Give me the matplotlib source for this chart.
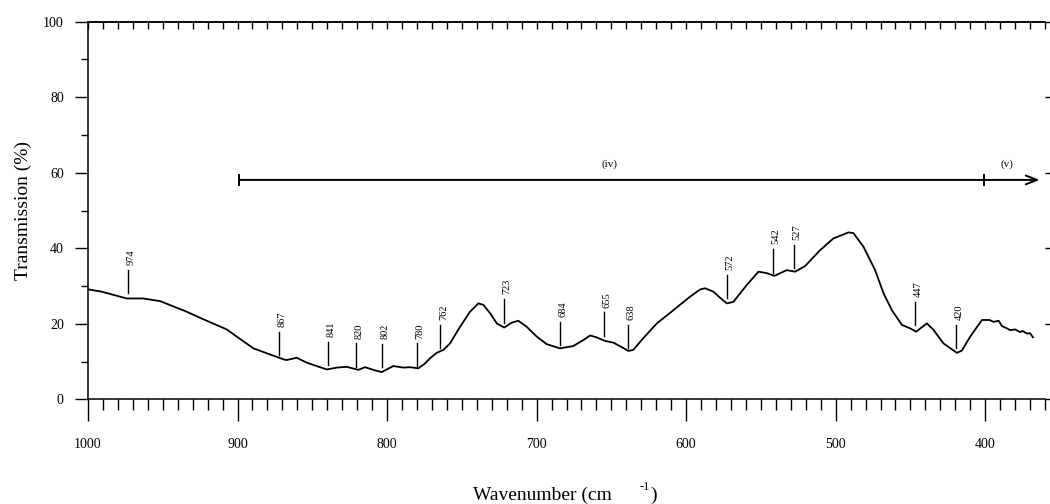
import matplotlib
matplotlib.use("Agg")
import matplotlib.pyplot as plt
from matplotlib.ticker import MultipleLocator, FixedLocator
from matplotlib.patches import FancyArrowPatch

plt.rcParams['font.family'] = ['Liberation Serif', 'DejaVu Serif']

# ---- spectrum ----
wavenumber = [999.8, 990.8, 974.1, 963.0, 951.8, 934.0, 922.9, 907.2, 900.5, 889.4,
              880.5, 869.4, 867.1, 860.4, 853.7, 840.3, 833.6, 827.0, 819.2, 814.7,
              809.2, 803.6, 795.8, 789.1, 784.6, 779.1, 774.6, 771.2, 766.8, 762.3,
              757.9, 751.2, 744.5, 738.9, 735.6, 731.1, 726.6, 721.7, 716.6, 712.2,
              706.6, 699.9, 693.2, 684.4, 675.5, 668.7, 664.2, 659.8, 654.6, 648.6,
              643.0, 638.6, 635.3, 628.6, 619.6, 608.5, 597.3, 590.6, 587.3, 581.7,
              577.3, 572.8, 568.4, 559.4, 551.6, 546.0, 540.9, 537.1, 532.7, 527.1,
              520.4, 510.4, 501.5, 491.4, 488.1, 481.4, 473.6, 468.0, 462.4, 455.7,
              450.2, 446.2, 439.0, 434.6, 427.9, 418.9, 415.6, 410.0, 402.2, 397.0,
              394.4, 391.0, 388.8, 385.0, 383.3, 380.0, 376.6, 375.0, 372.0, 370.0,
              368.0]
transmission = [29.1, 28.5, 26.7, 26.7, 26.0, 23.2, 21.2, 18.5, 16.6, 13.5,
                12.2, 10.6, 10.4, 11.0, 9.7, 7.9, 8.4, 8.6, 7.8, 8.5,
                7.8, 7.2, 8.8, 8.4, 8.5, 8.2, 9.5, 10.9, 12.3, 13.1,
                14.8, 19.2, 23.2, 25.4, 25.0, 22.8, 20.1, 19.0, 20.3, 20.8,
                19.2, 16.6, 14.6, 13.5, 14.1, 15.7, 16.9, 16.4, 15.5, 15.0,
                13.8, 12.8, 13.1, 16.2, 20.1, 23.6, 27.2, 29.1, 29.4, 28.5,
                26.9, 25.4, 25.8, 30.3, 33.8, 33.4, 32.7, 33.4, 34.2, 33.8,
                35.3, 39.5, 42.6, 44.2, 44.0, 40.4, 34.2, 28.1, 23.6, 19.7,
                18.8, 17.9, 20.1, 18.4, 14.8, 12.3, 12.9, 16.6, 21.0, 21.0,
                20.5, 20.8, 19.4, 18.7, 18.3, 18.5, 17.8, 18.1, 17.4, 17.5,
                16.4]

# ---- peak annotations ----
peak_labels = ['974', '867', '841', '820', '802', '780', '762', '723', '684',
               '655', '638', '572', '542', '527', '447', '420']
peak_pos = [973.0, 872.0, 839.4, 820.6, 803.5, 780.3, 764.3, 721.9, 684.4,
            654.9, 638.8, 572.5, 541.7, 528.0, 447.0, 419.4]
peak_base = [28.1, 11.7, 9.1, 8.6, 8.5, 8.6, 13.5, 20.3, 14.4,
             16.8, 13.5, 26.7, 33.5, 34.7, 19.7, 13.5]

# ---- region arrow ----
region_bounds = [899.0, 400.7, 363.7]
region_labels = ['(iv)', '(v)']
region_label_x = [651.2, 385.5]
region_y = 58.1

fig = plt.figure(figsize=(10.5, 5.04), dpi=100)
ax = fig.add_axes([88/1050, 1 - 399.3/504, (1045 - 88)/1050, (399.3 - 21.7)/504])

ax.plot(wavenumber, transmission, color='black', lw=1.3, solid_joinstyle='round')

ax.set_xlim(1000, 360)
ax.set_ylim(0, 100)

# spines
ax.spines['right'].set_visible(False)
for s in ['left', 'bottom', 'top']:
    ax.spines[s].set_linewidth(1.1)

# x ticks
ax.xaxis.set_major_locator(FixedLocator([1000, 900, 800, 700, 600, 500, 400]))
ax.xaxis.set_minor_locator(MultipleLocator(10))
ax.tick_params(axis='x', which='major', direction='out', length=15.8, width=1.0,
               labelsize=10, pad=12, top=False, bottom=True)
ax.tick_params(axis='x', which='minor', direction='out', length=8, width=1.0,
               top=False, bottom=True)

# top inward ticks via secondary axis
top = ax.secondary_xaxis('top')
top.xaxis.set_major_locator(MultipleLocator(10))
top.tick_params(axis='x', which='major', direction='in', length=4.8, width=1.0,
                labeltop=False)
top.xaxis.set_minor_locator(FixedLocator([]))
top.spines['top'].set_linewidth(1.1)

# y ticks
ax.yaxis.set_major_locator(MultipleLocator(20))
ax.yaxis.set_minor_locator(MultipleLocator(10))
ax.tick_params(axis='y', which='major', direction='out', length=9.4, width=1.0,
               labelsize=10, pad=8, left=True, right=True)
ax.tick_params(axis='y', which='minor', direction='out', length=5, width=1.0,
               left=True, right=False)

ax.set_ylabel('Transmission (%)', fontsize=14, labelpad=8)

# x label pieces
fig.text(473/1050, 1 - 500/504, 'Wavenumber (cm', fontsize=14, ha='left', va='baseline')
fig.text(640/1050, 1 - 490/504, '-1', fontsize=9, ha='left', va='baseline')
fig.text(650/1050, 1 - 500/504, ')', fontsize=14, ha='left', va='baseline')

# peak markers
tick_len = 6.2
for lab, x, yb in zip(peak_labels, peak_pos, peak_base):
    ax.plot([x, x], [yb, yb + tick_len], color='black', lw=1.0)
    ax.text(x - 2.0, yb + tick_len + 1.3, lab, rotation=90, ha='center', va='bottom',
            fontsize=7.5)

# region arrow
arr = FancyArrowPatch((region_bounds[0], region_y), (region_bounds[-1], region_y),
                      arrowstyle='->,head_length=0.8,head_width=0.32', mutation_scale=10,
                      color='black', lw=1.4, shrinkA=0, shrinkB=0)
ax.add_patch(arr)
for xb in region_bounds[:-1]:
    ax.plot([xb, xb], [region_y - 1.35, region_y + 1.35], color='black', lw=1.4)
for lab, xl in zip(region_labels, region_label_x):
    ax.text(xl, region_y + 4.1, lab, ha='center', va='center', fontsize=8)

fig.savefig('out.png', dpi=100)
